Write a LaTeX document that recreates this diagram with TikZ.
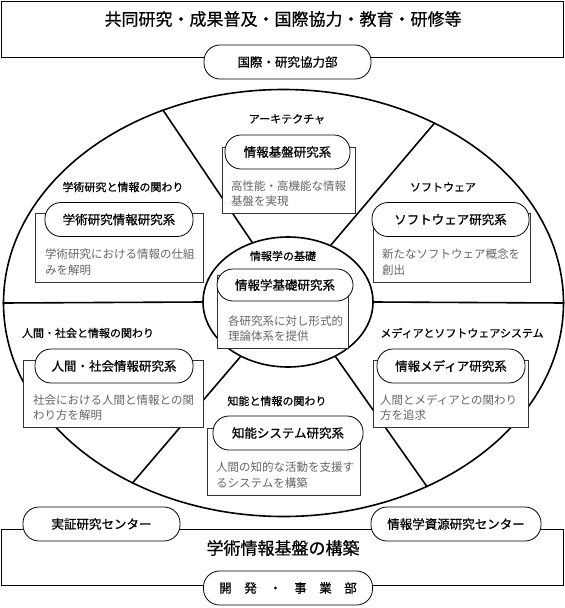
\documentclass[tikz,border=0pt]{standalone}
\usepackage{fontspec}
\newfontfamily\jpfont{Noto Sans CJK JP}
\newfontfamily\jpheavy[FakeBold=0.6]{Noto Sans CJK JP}
\usepackage{tikz}
\usetikzlibrary{shapes,positioning}

\begin{document}
\begin{tikzpicture}[
    x=1pt, y=-1pt,
    bandbox/.style={draw, line width=0.8pt, inner sep=0pt},
    wheel/.style={draw, ellipse, line width=1.6pt, inner sep=0pt},
    spoke/.style={line width=1.6pt},
    pill/.style={draw, fill=white, line width=0.8pt, rounded corners=16pt, inner sep=0pt, minimum height=34pt, font=\jpheavy\fontsize{12.5}{14}\selectfont},
    card/.style={draw=black!80, fill=white, line width=0.8pt, inner sep=0pt},
    theme/.style={font=\jpheavy\fontsize{11}{13}\selectfont, inner sep=0pt},
    desc/.style={font=\jpfont\fontsize{11.5}{15.5}\selectfont, text=black!60, align=left, inner sep=0pt, anchor=west},
    headline/.style={font=\jpheavy\fontsize{17}{20}\selectfont, inner sep=0pt}
]
\useasboundingbox (0,0) rectangle (565,608);

\node[bandbox, minimum width=562pt, minimum height=56pt] (coop) at (282,29) {};
\node[headline] (cooptitle) at (283,19) {共同研究・成果普及・国際協力・教育・研修等};
\node[bandbox, minimum width=562pt, minimum height=56pt] (build) at (282,557) {};
\node[headline] (buildtitle) at (283,548) {学術情報基盤の構築};

\node[wheel, minimum width=560pt, minimum height=427pt] (wheel) at (283.5,303) {};
\node[wheel, fill=white, minimum width=170pt, minimum height=130pt] (core) at (288,302) {};

\draw[spoke] (wheel.122.9) -- (core.121.5);
\draw[spoke] (wheel.50.9) -- (core.53.3);
\draw[spoke] (wheel.230.9) -- (core.229);
\draw[spoke] (wheel.308.6) -- (core.311.6);
\draw[spoke] (wheel.west) -- (core.west);
\draw[spoke] (wheel.east) -- (core.east);

\node[theme] (kibantheme) at (287,119) {アーキテクチャ};
\node[card, minimum width=133pt, minimum height=66pt] (kibanbox) at (288.5,180) {};
\node[pill, minimum width=125pt] (kiban) at (287.5,152) {情報基盤研究系};
\node[desc] (kibandesc) at (231,193.5) {高性能・高機能な情報\\基盤を実現};

\node[theme] (gakujutsutheme) at (123,187) {学術研究と情報の関わり};
\node[card, minimum width=168pt, minimum height=69pt] (gakujutsubox) at (119,247.5) {};
\node[pill, minimum width=148pt] (gakujutsu) at (119,219.5) {学術研究情報研究系};
\node[desc] (gakujutsudesc) at (45,262) {学術研究における情報の仕組\\みを解明};

\node[theme] (softtheme) at (443,187) {ソフトウェア};
\node[card, minimum width=157pt, minimum height=69pt] (softbox) at (451.5,247.5) {};
\node[pill, minimum width=157pt] (soft) at (450.5,219.5) {ソフトウェア研究系};
\node[desc] (softdesc) at (382,262) {新たなソフトウェア概念を\\創出};

\node[theme] (kisotheme) at (283,256) {情報学の基礎};
\node[card, minimum width=131pt, minimum height=73pt] (kisobox) at (282.5,311.5) {};
\node[pill, minimum width=136pt, minimum height=32pt] (kiso) at (285,285) {情報学基礎研究系};
\node[desc] (kisodesc) at (228,328.5) {各研究系に対し形式的\\理論体系を提供};

\node[theme] (ningentheme) at (88,333) {人間・社会と情報の関わり};
\node[card, minimum width=180pt, minimum height=67pt] (ningenbox) at (113,393.5) {};
\node[pill, minimum width=158pt] (ningen) at (114,366) {人間・社会情報研究系};
\node[desc] (ningendesc) at (33,407.5) {社会における人間と情報との関\\わり方を解明};

\node[theme] (mediatheme) at (462,333) {メディアとソフトウェアシステム};
\node[card, minimum width=155pt, minimum height=67pt] (mediabox) at (450.5,393.5) {};
\node[pill, minimum width=148pt] (media) at (451,366) {情報メディア研究系};
\node[desc] (mediadesc) at (380,407.5) {人間とメディアとの関わり\\方を追求};

\node[theme] (chinotheme) at (277,401) {知能と情報の関わり};
\node[card, minimum width=153pt, minimum height=67pt] (chinobox) at (283.5,461.5) {};
\node[pill, minimum width=150pt] (chino) at (288,433) {知能システム研究系};
\node[desc] (chinodesc) at (216,475) {人間の知的な活動を支援す\\るシステムを構築};

\node[pill, minimum width=167pt] (intl) at (287.5,62) {国際・研究協力部};
\node[pill, minimum width=157pt] (jissho) at (101.5,524) {実証研究センター};
\node[pill, minimum width=170pt] (shigen) at (456,524) {情報学資源研究センター};
\node[pill, minimum width=169pt] (dev) at (288,588) {開　発　・　事　業　部};
\end{tikzpicture}
\end{document}
